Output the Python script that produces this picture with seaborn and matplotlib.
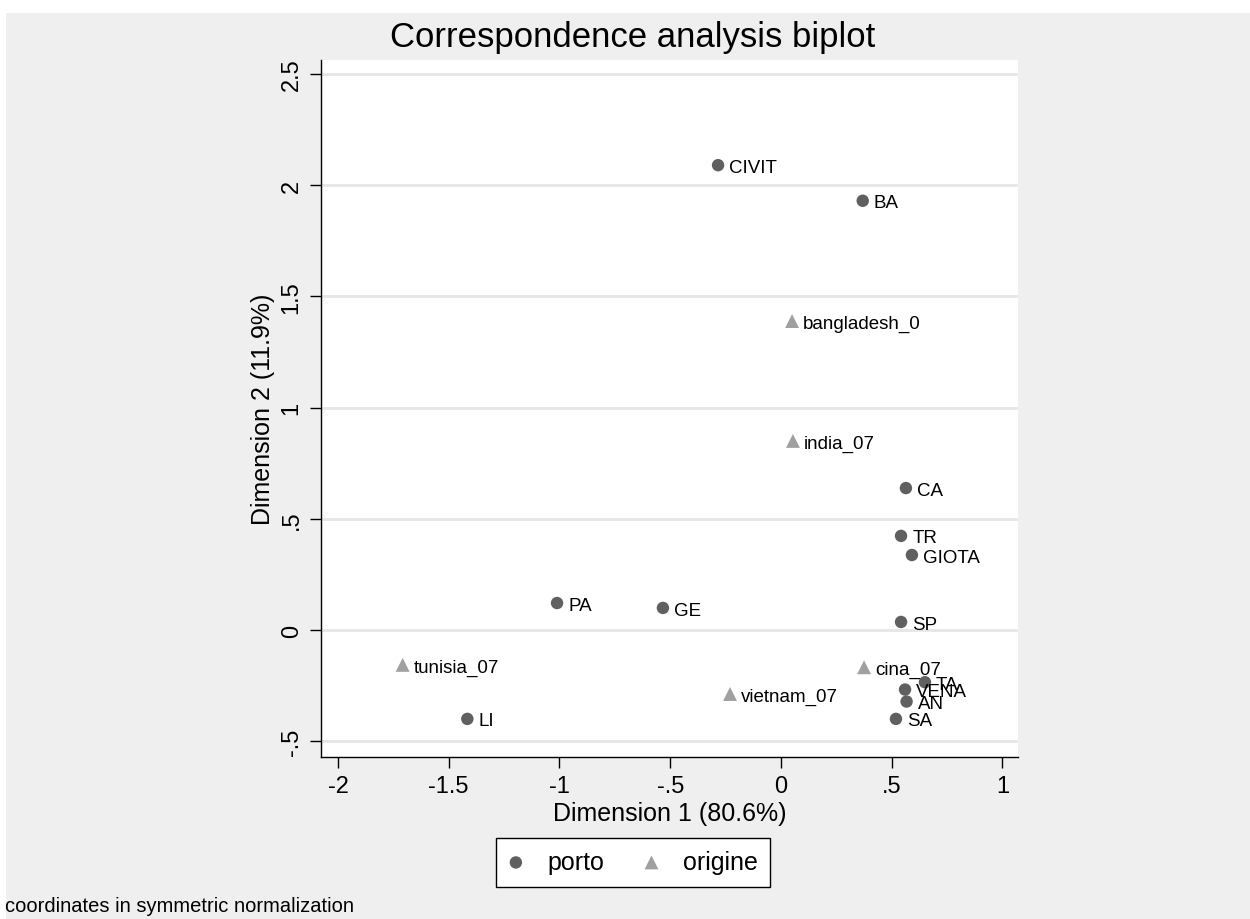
import matplotlib
matplotlib.use("Agg")
import matplotlib.pyplot as plt
import seaborn as sns
import pandas as pd
from matplotlib.patches import Rectangle

# ---- data ----
porto_labels = ['CIVIT', 'BA', 'CA', 'TR', 'GIOTA', 'PA', 'GE', 'SP', 'TA', 'VENA', 'AN', 'SA', 'LI']
porto_x = [-0.284, 0.369, 0.564, 0.542, 0.591, -1.011, -0.533, 0.542, 0.650, 0.560, 0.567, 0.519, -1.416]
porto_y = [2.090, 1.930, 0.638, 0.423, 0.337, 0.121, 0.099, 0.036, -0.235, -0.268, -0.322, -0.400, -0.400]

origine_labels = ['bangladesh_0', 'india_07', 'cina_07', 'vietnam_07', 'tunisia_07']
origine_x = [0.050, 0.054, 0.375, -0.230, -1.708]
origine_y = [1.389, 0.850, -0.168, -0.288, -0.157]

x_ticks = [-2, -1.5, -1, -0.5, 0, 0.5, 1]
x_ticklabels = ['-2', '-1.5', '-1', '-.5', '0', '.5', '1']
y_ticks = [-0.5, 0, 0.5, 1, 1.5, 2, 2.5]
y_ticklabels = ['-.5', '0', '.5', '1', '1.5', '2', '2.5']

title = 'Correspondence analysis biplot'
xlabel = 'Dimension 1 (80.6%)'
ylabel = 'Dimension 2 (11.9%)'
note = 'coordinates in symmetric normalization'

df_p = pd.DataFrame({'x': porto_x, 'y': porto_y, 'lab': porto_labels})
df_o = pd.DataFrame({'x': origine_x, 'y': origine_y, 'lab': origine_labels})

sns.set_style('white')
plt.rcParams['font.family'] = ['Liberation Sans', 'DejaVu Sans']
plt.rcParams['text.color'] = 'black'
plt.rcParams['axes.labelcolor'] = 'black'
plt.rcParams['xtick.color'] = 'black'
plt.rcParams['ytick.color'] = 'black'

BG = '#efefef'
C_PORTO = '#606060'
C_ORIG = '#a0a0a0'

W, H = 1250, 920
fig = plt.figure(figsize=(12.5, 9.2), dpi=100, facecolor=BG)
# thin white margins (top/left) of original export
fig.patches.append(Rectangle((0, 1 - 14 / H), 1, 14 / H, transform=fig.transFigure,
                             facecolor='white', edgecolor='none', zorder=-1))
fig.patches.append(Rectangle((0, 0), 6 / W, 1, transform=fig.transFigure,
                             facecolor='white', edgecolor='none', zorder=-1))

left, right, top, bottom = 320.7, 1018, 61, 757.7
ax = fig.add_axes([left / W, 1 - bottom / H, (right - left) / W, (bottom - top) / H])
ax.set_facecolor('white')

sns.scatterplot(data=df_p, x='x', y='y', ax=ax, color=C_PORTO, marker='o', s=80,
                edgecolor='none', label='porto', zorder=3)
sns.scatterplot(data=df_o, x='x', y='y', ax=ax, color=C_ORIG, marker='^', s=100,
                edgecolor='none', label='origine', zorder=3)

for d in (df_p, df_o):
    for xx, yy, lab in zip(d['x'], d['y'], d['lab']):
        ax.annotate(lab, (xx, yy), xytext=(8, -1.5), textcoords='offset points',
                    ha='left', va='center', fontsize=13.5, color='black', zorder=4)

ax.set_xlim(-2.078, 1.07)
ax.set_ylim(-0.57, 2.563)

ax.set_xticks(x_ticks)
ax.set_xticklabels(x_ticklabels)
ax.set_yticks(y_ticks)
ax.set_yticklabels(y_ticklabels, rotation=90, va='center')
ax.tick_params(axis='both', direction='out', length=8, width=1, color='black',
               labelcolor='black', labelsize=17, pad=5, left=True, bottom=True)

ax.grid(axis='y', color='#e6e6e6', linewidth=2)
ax.grid(axis='x', visible=False)
ax.set_axisbelow(True)

for s in ['top', 'right']:
    ax.spines[s].set_visible(False)
for s in ['left', 'bottom']:
    ax.spines[s].set_color('black')
    ax.spines[s].set_linewidth(1)

ax.set_xlabel(xlabel, fontsize=18, labelpad=3, color='black')
ax.set_ylabel(ylabel, fontsize=18, labelpad=4, color='black')

fig.text(633 / W, 1 - 47 / H, title, ha='center', va='baseline', fontsize=25, color='black')

leg = ax.legend(loc='center', bbox_to_anchor=(633 / W, 1 - 863 / H),
                bbox_transform=fig.transFigure, ncol=2, fontsize=18, frameon=True,
                fancybox=False, edgecolor='black', framealpha=1, facecolor='white',
                handletextpad=0.95, columnspacing=1.6, borderpad=0.5,
                markerscale=1.0, handlelength=0.6)
leg.get_frame().set_linewidth(1)
for t in leg.get_texts():
    t.set_color('black')

fig.text(5 / W, 1 - 912 / H, note, ha='left', va='baseline', fontsize=14.5, color='black')

fig.savefig('out.png', dpi=100, facecolor=BG)
